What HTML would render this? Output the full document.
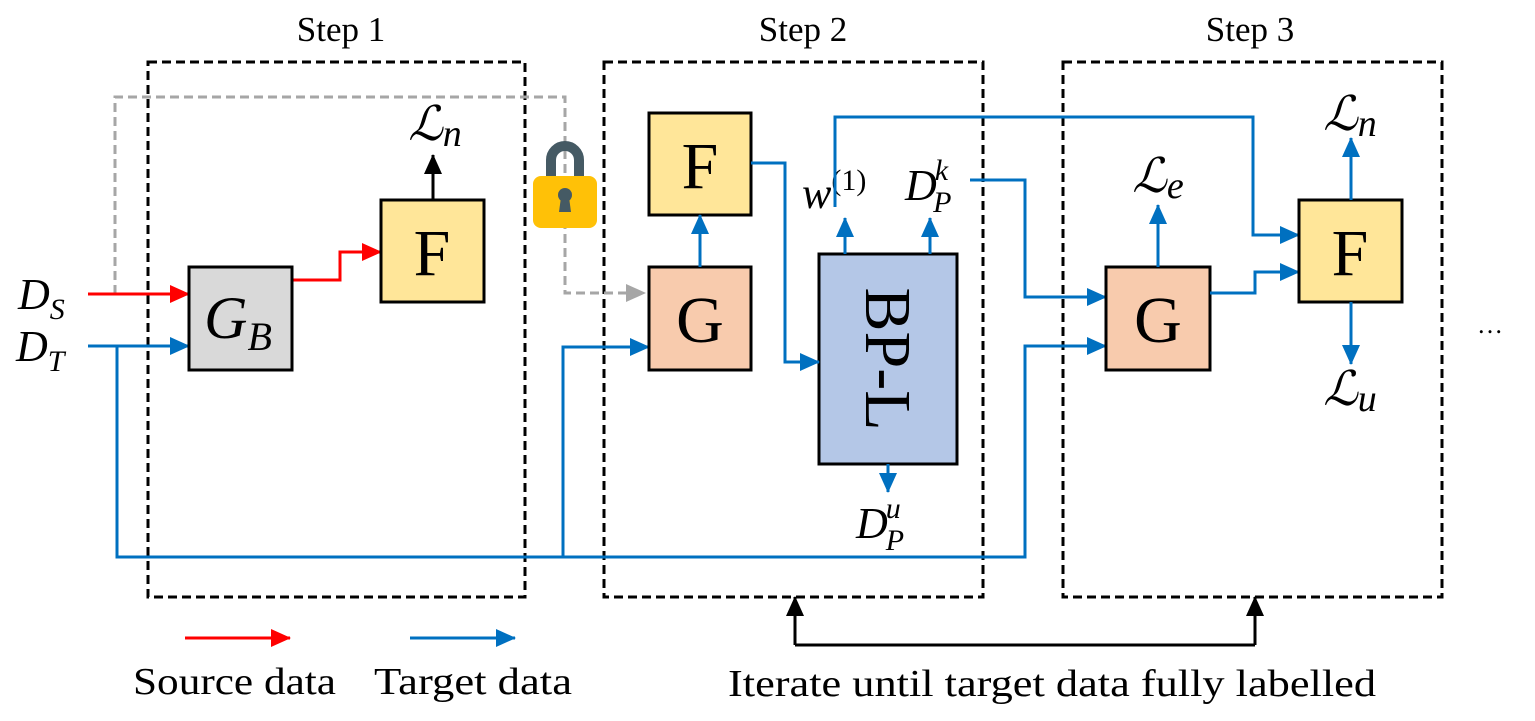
<!DOCTYPE html>
<html><head><meta charset="utf-8"><style>
html,body{margin:0;padding:0;background:#fff;}
svg{display:block;}
text{font-family:"Liberation Serif",serif;fill:#000;}
.it{font-style:italic;}
</style></head><body>
<svg width="1535" height="721" viewBox="0 0 1535 721" xmlns="http://www.w3.org/2000/svg">
<defs>
<marker id="ab" markerWidth="20" markerHeight="18" refX="19" refY="9" orient="auto" markerUnits="userSpaceOnUse" viewBox="0 0 20 18"><path d="M0,0 L20,9 L0,18 z" fill="#0070c0"/></marker>
<marker id="ar" markerWidth="20" markerHeight="18" refX="19" refY="9" orient="auto" markerUnits="userSpaceOnUse" viewBox="0 0 20 18"><path d="M0,0 L20,9 L0,18 z" fill="#ff0000"/></marker>
<marker id="ak" markerWidth="20" markerHeight="18" refX="19" refY="9" orient="auto" markerUnits="userSpaceOnUse" viewBox="0 0 20 18"><path d="M0,0 L20,9 L0,18 z" fill="#000"/></marker>
<marker id="ag" markerWidth="20" markerHeight="18" refX="19" refY="9" orient="auto" markerUnits="userSpaceOnUse" viewBox="0 0 20 18"><path d="M0,0 L20,9 L0,18 z" fill="#a6a6a6"/></marker>
</defs>
<style>
.mb{stroke:#0070c0;stroke-width:3;fill:none;}
</style>
<!-- titles -->
<text x="341" y="41" font-size="35" text-anchor="middle">Step 1</text>
<text x="803" y="41" font-size="35" text-anchor="middle">Step 2</text>
<text x="1250" y="41" font-size="35" text-anchor="middle">Step 3</text>
<!-- dashed step boxes -->
<g fill="none" stroke="#000" stroke-width="3" stroke-dasharray="9,5">
<rect x="148" y="62" width="377" height="535"/>
<rect x="604" y="62" width="379" height="535"/>
<rect x="1063" y="62" width="379" height="535"/>
</g>
<!-- gray dashed -->
<path d="M115,294 V97 H565 V293 H645" fill="none" stroke="#a6a6a6" stroke-width="3" stroke-dasharray="9,5" marker-end="url(#ag)"/>
<!-- lock -->
<path d="M551,180 V160 A14,14 0 0 1 579,160 V180" fill="none" stroke="#455a64" stroke-width="10"/>
<rect x="533" y="176" width="64" height="52" rx="8" fill="#ffc107"/>
<circle cx="565" cy="195" r="7" fill="#455a64"/>
<path d="M561,197 L559,212 H571 L569,197 z" fill="#455a64"/>
<!-- DT long blue -->
<path class="mb" d="M88,346 H189" marker-end="url(#ab)"/>
<path class="mb" d="M117,346 V557 H1025 V346 H1106" marker-end="url(#ab)"/>
<path class="mb" d="M563,557 V347 H649" marker-end="url(#ab)"/>
<!-- DS red -->
<path d="M88,294 H189" stroke="#f00" stroke-width="3" fill="none" marker-end="url(#ar)"/>
<path d="M292,280 H340 V252 H381" stroke="#f00" stroke-width="3" fill="none" marker-end="url(#ar)"/>
<!-- Step 1 boxes -->
<rect x="189" y="267" width="103" height="103" fill="#d9d9d9" stroke="#000" stroke-width="3"/>
<text x="238" y="338" font-size="60" class="it" text-anchor="middle">G<tspan font-size="40" dy="12">B</tspan></text>
<rect x="381" y="200" width="103" height="102" fill="#ffe699" stroke="#000" stroke-width="3"/>
<text x="432" y="275" font-size="66" text-anchor="middle">F</text>
<path d="M433,200 V155" stroke="#000" stroke-width="3" marker-end="url(#ak)"/>
<text x="435" y="140" font-size="48" class="it" text-anchor="middle">ℒ<tspan font-size="38" dy="6">n</tspan></text>
<text x="18" y="309" font-size="44" class="it">D<tspan font-size="30" dy="10">S</tspan></text>
<text x="16" y="361" font-size="44" class="it">D<tspan font-size="30" dy="10">T</tspan></text>
<!-- Step 2 -->
<rect x="649" y="113" width="102" height="102" fill="#ffe699" stroke="#000" stroke-width="3"/>
<text x="700" y="188" font-size="66" text-anchor="middle">F</text>
<rect x="649" y="267" width="102" height="103" fill="#f8cbad" stroke="#000" stroke-width="3"/>
<text x="700" y="342" font-size="66" text-anchor="middle">G</text>
<path class="mb" d="M700,267 V215" marker-end="url(#ab)"/>
<rect x="819" y="254" width="138" height="210" fill="#b4c7e7" stroke="#000" stroke-width="3"/>
<text transform="translate(866,359) rotate(90)" font-size="66" text-anchor="middle">BP-L</text>
<path class="mb" d="M751,163 H785 V362 H819" marker-end="url(#ab)"/>
<path class="mb" d="M845,254 V218" marker-end="url(#ab)"/>
<path class="mb" d="M930,254 V218" marker-end="url(#ab)"/>
<path class="mb" d="M888,464 V492" marker-end="url(#ab)"/>
<text x="802" y="208" font-size="44" class="it">w<tspan font-style="normal" font-size="30" dy="-18">(1)</tspan></text>
<text x="905" y="200" font-size="44" class="it">D<tspan font-size="30" dx="-2" dy="-20">k</tspan><tspan font-size="30" dx="-15" dy="32">P</tspan></text>
<text x="856" y="538" font-size="44" class="it">D<tspan font-size="30" dx="-2" dy="-20">u</tspan><tspan font-size="30" dx="-15" dy="32">P</tspan></text>
<path class="mb" d="M835,207 V117 H1253 V235 H1299" marker-end="url(#ab)"/>
<path class="mb" d="M970,180 H1025 V297 H1106" marker-end="url(#ab)"/>
<!-- Step 3 -->
<rect x="1106" y="267" width="104" height="103" fill="#f8cbad" stroke="#000" stroke-width="3"/>
<text x="1158" y="342" font-size="66" text-anchor="middle">G</text>
<path class="mb" d="M1158,267 V205" marker-end="url(#ab)"/>
<text x="1158" y="192" font-size="48" class="it" text-anchor="middle">ℒ<tspan font-size="38" dy="6">e</tspan></text>
<path class="mb" d="M1210,293 H1255 V272 H1299" marker-end="url(#ab)"/>
<rect x="1299" y="200" width="103" height="102" fill="#ffe699" stroke="#000" stroke-width="3"/>
<text x="1350" y="275" font-size="66" text-anchor="middle">F</text>
<path class="mb" d="M1351,200 V138" marker-end="url(#ab)"/>
<path class="mb" d="M1351,302 V364" marker-end="url(#ab)"/>
<text x="1350" y="130" font-size="48" class="it" text-anchor="middle">ℒ<tspan font-size="38" dy="6">n</tspan></text>
<text x="1350" y="405" font-size="48" class="it" text-anchor="middle">ℒ<tspan font-size="38" dy="6">u</tspan></text>
<text x="1490" y="333" font-size="26" text-anchor="middle">…</text>
<!-- legend -->
<path d="M185,638 H290" stroke="#f00" stroke-width="3" marker-end="url(#ar)"/>
<path d="M410,638 H515" stroke="#0070c0" stroke-width="3" marker-end="url(#ab)"/>
<text x="133" y="694" font-size="38" textLength="203" lengthAdjust="spacingAndGlyphs">Source data</text>
<text x="374" y="694" font-size="38" textLength="198" lengthAdjust="spacingAndGlyphs">Target data</text>
<!-- iterate -->
<path d="M795,645 V597" stroke="#000" stroke-width="3" fill="none" marker-end="url(#ak)"/>
<path d="M1255,645 V597" stroke="#000" stroke-width="3" fill="none" marker-end="url(#ak)"/>
<path d="M795,645 H1255" stroke="#000" stroke-width="3" fill="none"/>
<text x="728" y="696" font-size="38" textLength="648" lengthAdjust="spacingAndGlyphs">Iterate until target data fully labelled</text>
</svg>
</body></html>
